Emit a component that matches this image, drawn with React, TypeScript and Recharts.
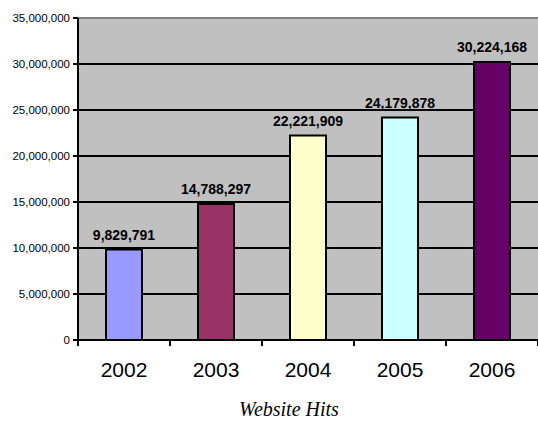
import React from 'react';
import { BarChart, Bar, XAxis, YAxis, CartesianGrid, LabelList, Cell, ReferenceLine } from 'recharts';

const years = ['2002', '2003', '2004', '2005', '2006'];
const hits = [9829791, 14788297, 22221909, 24179878, 30224168];
const colors = ['#9999FF', '#993366', '#FFFFCC', '#CCFFFF', '#660066'];
const yTicks = [0, 5000000, 10000000, 15000000, 20000000, 25000000, 30000000, 35000000];

const data = years.map((y, i) => ({ year: y, hits: hits[i] }));

const fmt = (v: number) => v.toLocaleString('en-US');

const XTick = (props: any) => {
  const { x, payload, index } = props;
  const off = payload && payload.offset ? payload.offset : 46;
  return (
    <g>
      <line x1={x - off} x2={x - off} y1={340} y2={346} stroke="#000" strokeWidth={2} />
      {index === years.length - 1 && (
        <line x1={x + off} x2={x + off} y1={340} y2={346} stroke="#000" strokeWidth={2} />
      )}
      <text x={x} y={362} dy="0.71em" textAnchor="middle" fontFamily="Arial, 'Liberation Sans', sans-serif" fontSize={21} fill="#000">
        {payload.value}
      </text>
    </g>
  );
};

export default function App() {
  return (
    <div style={{ position: 'absolute', left: 0, top: 0, width: 538, height: 421, background: '#fff' }}>
      <BarChart width={538} height={421} data={data} margin={{ top: 18, right: 0, left: 0, bottom: 0 }} barCategoryGap="30%">
        <CartesianGrid vertical={false} horizontal={true} stroke="#000" strokeWidth={2} fill="#C0C0C0" />
        <ReferenceLine y={35000000} stroke="#808080" strokeWidth={2} />
        <XAxis
          dataKey="year"
          height={81}
          axisLine={{ stroke: '#000', strokeWidth: 2 }}
          tickLine={false}
          tick={<XTick />}
          interval={0}
          label={{
            value: 'Website Hits',
            position: 'insideBottom',
            offset: 5,
            dx: -19,
            style: { fontFamily: "'Liberation Serif', 'Times New Roman', serif", fontStyle: 'italic', fontSize: 20, fill: '#000' },
          }}
        />
        <YAxis
          width={78}
          domain={[0, 35000000]}
          ticks={yTicks}
          interval={0}
          tickFormatter={fmt}
          axisLine={{ stroke: '#000', strokeWidth: 2 }}
          tickLine={{ stroke: '#000', strokeWidth: 2 }}
          tickSize={5}
          tickMargin={3}
          tick={{ fontFamily: "Arial, 'Liberation Sans', sans-serif", fontSize: 11.5, fill: '#000' }}
        />
        <Bar dataKey="hits" isAnimationActive={false} stroke="#000" strokeWidth={2} barSize={36}>
          {data.map((d, i) => (
            <Cell key={d.year} fill={colors[i]} />
          ))}
          <LabelList
            dataKey="hits"
            position="top"
            offset={10}
            formatter={(v: any) => fmt(Number(v))}
            style={{ fontFamily: "Arial, 'Liberation Sans', sans-serif", fontSize: 14, fontWeight: 'bold', fill: '#000' }}
          />
        </Bar>
      </BarChart>
    </div>
  );
}
